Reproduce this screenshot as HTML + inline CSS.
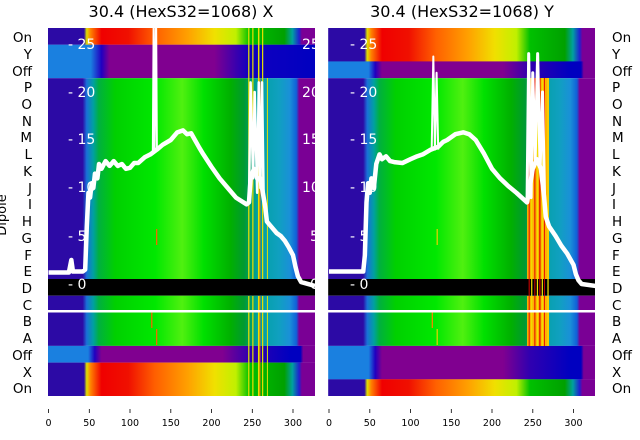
<!DOCTYPE html>
<html><head><meta charset="utf-8"><style>
body{margin:0;background:#fff}
svg{display:block}
text{font-family:"DejaVu Sans","Liberation Sans",sans-serif}
</style></head><body>
<svg width="640" height="440" viewBox="0 0 640 440">
<defs>
<linearGradient id="gr"><stop offset="0" stop-color="#2c0aa5"/><stop offset="0.13" stop-color="#2c0aa5"/><stop offset="0.145" stop-color="#1a70d8"/><stop offset="0.17" stop-color="#00a0a0"/><stop offset="0.19" stop-color="#00b040"/><stop offset="0.25" stop-color="#00d000"/><stop offset="0.4" stop-color="#00e800"/><stop offset="0.5" stop-color="#50f010"/><stop offset="0.58" stop-color="#00e000"/><stop offset="0.68" stop-color="#00b000"/><stop offset="0.73" stop-color="#009a30"/><stop offset="0.78" stop-color="#00a0a0"/><stop offset="0.86" stop-color="#10a0c0"/><stop offset="0.9" stop-color="#1a90d8"/><stop offset="0.925" stop-color="#1060d8"/><stop offset="0.935" stop-color="#7a0095"/><stop offset="1" stop-color="#7a0095"/></linearGradient>
<linearGradient id="ht"><stop offset="0" stop-color="#2c0aa5"/><stop offset="0.135" stop-color="#2c0aa5"/><stop offset="0.145" stop-color="#e0e000"/><stop offset="0.16" stop-color="#ff8000"/><stop offset="0.2" stop-color="#f00000"/><stop offset="0.3" stop-color="#f01000"/><stop offset="0.4" stop-color="#ff6000"/><stop offset="0.52" stop-color="#ffa000"/><stop offset="0.62" stop-color="#f0e000"/><stop offset="0.7" stop-color="#c0f000"/><stop offset="0.75" stop-color="#00c000"/><stop offset="0.88" stop-color="#00a000"/><stop offset="0.91" stop-color="#00a0a0"/><stop offset="0.935" stop-color="#2020d0"/><stop offset="0.945" stop-color="#7a0095"/><stop offset="1" stop-color="#7a0095"/></linearGradient>
<linearGradient id="pu"><stop offset="0" stop-color="#1a80e0"/><stop offset="0.15" stop-color="#1a80e0"/><stop offset="0.175" stop-color="#2000c0"/><stop offset="0.2" stop-color="#800090"/><stop offset="0.65" stop-color="#800090"/><stop offset="0.75" stop-color="#3000b0"/><stop offset="0.9" stop-color="#0000c0"/><stop offset="0.94" stop-color="#0000c0"/><stop offset="0.95" stop-color="#7a0095"/><stop offset="1" stop-color="#7a0095"/></linearGradient>
<linearGradient id="pl"><stop offset="0" stop-color="#1a80e0"/><stop offset="0.16" stop-color="#1a80e0"/><stop offset="0.2" stop-color="#2000c0"/><stop offset="0.23" stop-color="#800090"/><stop offset="0.62" stop-color="#800090"/><stop offset="0.75" stop-color="#1000c0"/><stop offset="1" stop-color="#0000c0"/></linearGradient>
<clipPath id="cl"><rect x="48" y="28" width="267" height="368"/></clipPath>
<clipPath id="cr"><rect x="328" y="28" width="267" height="368"/></clipPath>
</defs>

<text x="181" y="17" font-size="16" text-anchor="middle">30.4 (HexS32=1068) X</text>
<text x="462" y="17" font-size="16" text-anchor="middle">30.4 (HexS32=1068) Y</text>

<!-- LEFT PANEL -->
<g clip-path="url(#cl)">
<g transform="translate(48.5,0) scale(0.815,1)">
<rect x="-1" y="28" width="330" height="16.8" fill="url(#ht)"/>
<rect x="-1" y="44.7" width="330" height="33.5" fill="url(#pl)"/>
<rect x="-1" y="78.2" width="330" height="201" fill="url(#gr)"/>
<rect x="-1" y="279" width="330" height="16.7" fill="#000"/>
<rect x="-1" y="295.7" width="330" height="50.2" fill="url(#gr)"/>
<rect x="-1" y="345.9" width="330" height="16.7" fill="url(#pu)"/>
<rect x="-1" y="362.6" width="330" height="33.5" fill="url(#ht)"/>
<g fill="#e8e000"><rect x="245" y="28" width="1.5" height="251"/><rect x="250" y="28" width="1.5" height="251"/><rect x="257" y="28" width="1.8" height="251"/><rect x="262" y="28" width="1.5" height="251"/><rect x="268" y="78" width="1.2" height="201"/>
<rect x="245" y="296" width="1.5" height="100"/><rect x="250" y="296" width="1.5" height="100"/><rect x="257" y="296" width="1.8" height="100"/><rect x="262" y="296" width="1.5" height="100"/><rect x="268" y="296" width="1.2" height="100"/></g>
<g fill="#ff6000"><rect x="259" y="78" width="1" height="201"/><rect x="259" y="296" width="1" height="100"/><rect x="132" y="229" width="1.5" height="16"/><rect x="126" y="312" width="1.5" height="16"/><rect x="132" y="329" width="1.5" height="16"/></g>
<g transform="translate(0,284) scale(1,-9.6)" fill="none" stroke="#fff" stroke-linejoin="round">
<polyline vector-effect="non-scaling-stroke" stroke-width="2" points="128,13.7 129,27 130,14 132,28 133,14"/>
<polyline vector-effect="non-scaling-stroke" stroke-width="2.5" points="246,8.5 248,21 251,11 253,20 256,9.5 258,21 260,10 262,21 264,9"/>
<polyline vector-effect="non-scaling-stroke" stroke-width="4.5" points="0,1.2 25,1.2 28,2.5 30,1.3 42,1.3 45,1.5 47,6 49,9.5 51,9 53,10.5 55,10 57,11.5 60,11 62,12.5 65,12 70,12.8 75,12.3 80,12.8 85,12.3 90,12.5 95,12 100,12.1 105,12.6 110,12.6 118,13.2 125,13.5 133,14 140,14.5 150,15 158,15.8 165,16 170,15.6 175,15.7 185,14.2 190,13.5 200,12.2 210,11 220,10 230,9 243,8.3 246,8.5 248,11 252,12 256,11 260,11 264,9 266,8 268,6.5 275,5.8 280,5.3 285,5 290,4.5 295,3.8 300,3 303,1.8 306,0.8 310,0.2 327,-0.2"/>
</g>
</g>
<rect x="48" y="310" width="267" height="2.5" fill="#fff"/>
<g fill="#fff" font-size="14"><text x="68" y="49">- 25</text><text x="68" y="97">- 20</text><text x="68" y="144">- 15</text><text x="68" y="192">- 10</text><text x="68" y="241">- 5</text><text x="68" y="289">- 0</text>
<text x="302" y="49">25</text><text x="302" y="97">20</text><text x="302" y="144">15</text><text x="302" y="192">10</text><text x="310" y="241">5</text><text x="310" y="289">0</text></g>
</g>

<!-- RIGHT PANEL -->
<g clip-path="url(#cr)">
<g transform="translate(329,0) scale(0.815,1)">
<rect x="-1" y="28" width="330" height="33.5" fill="url(#ht)"/>
<rect x="-1" y="61.4" width="330" height="16.8" fill="url(#pu)"/>
<rect x="-1" y="78.2" width="330" height="201" fill="url(#gr)"/>
<rect x="-1" y="279" width="330" height="16.7" fill="#000"/>
<rect x="-1" y="295.7" width="330" height="50.2" fill="url(#gr)"/>
<rect x="-1" y="345.9" width="330" height="33.5" fill="url(#pu)"/>
<rect x="-1" y="379.3" width="330" height="16.8" fill="url(#ht)"/>
<g><rect x="243" y="78" width="27" height="201" fill="#ffb000"/><rect x="243" y="296" width="27" height="50" fill="#ffb000"/>
<g fill="#e00000"><rect x="245" y="78" width="1.2" height="268"/><rect x="252" y="78" width="1.2" height="268"/><rect x="258" y="78" width="1.5" height="268"/><rect x="264" y="78" width="1" height="268"/></g>
<g fill="#f0e000"><rect x="248" y="78" width="1.5" height="268"/><rect x="255" y="78" width="1.5" height="268"/><rect x="261" y="78" width="1.5" height="268"/><rect x="268" y="78" width="1.5" height="268"/></g></g>
<g fill="#e8d000"><rect x="132" y="229" width="1.5" height="16"/><rect x="132" y="329" width="1.5" height="16"/></g>
<rect x="126" y="312" width="1.5" height="16" fill="#ff8000"/>
<g transform="translate(0,284) scale(1,-9.6)" fill="none" stroke="#fff" stroke-linejoin="round">
<polyline vector-effect="non-scaling-stroke" stroke-width="2" points="126,14 128,23.7 130,14 132,22 134,14"/>
<polyline vector-effect="non-scaling-stroke" stroke-width="3" points="243,8.5 245,24 248,9 250,22 253,13 256,24 259,12 262,20 265,7"/>
<polyline vector-effect="non-scaling-stroke" stroke-width="4.5" points="0,1.3 42,1.3 44,3 46,8.5 48,10.5 50,9.5 52,11 55,10 58,12.5 62,13.5 65,13 70,13.3 75,12.8 80,12.7 90,12.6 100,13 108,13.3 115,13.5 125,14 134,14.3 140,14.8 145,15 155,15.6 165,15.8 172,15.6 180,15 190,13.6 200,12 210,11 220,10.2 230,9.5 243,8.5 246,10 250,12 255,13 260,12 264,9 266,7 270,6 278,5 285,4 292,3.2 300,2 303,1 306,0.4 310,0 327,-0.2"/>
</g>
</g>
<rect x="328" y="310" width="267" height="2.5" fill="#fff"/>
<g fill="#fff" font-size="14"><text x="350" y="49">- 25</text><text x="350" y="97">- 20</text><text x="350" y="144">- 15</text><text x="350" y="192">- 10</text><text x="350" y="241">- 5</text><text x="350" y="289">- 0</text></g>
</g>

<!-- row labels -->
<g font-size="13.5" fill="#000">
<g text-anchor="end">
<text x="32" y="42">On</text><text x="32" y="59">Y</text><text x="32" y="76">Off</text><text x="32" y="92">P</text><text x="32" y="109">O</text><text x="32" y="126">N</text><text x="32" y="142">M</text><text x="32" y="159">L</text><text x="32" y="176">K</text><text x="32" y="193">J</text><text x="32" y="209">I</text><text x="32" y="226">H</text><text x="32" y="243">G</text><text x="32" y="260">F</text><text x="32" y="276">E</text><text x="32" y="293">D</text><text x="32" y="310">C</text><text x="32" y="326">B</text><text x="32" y="343">A</text><text x="32" y="360">Off</text><text x="32" y="377">X</text><text x="32" y="393">On</text></g>
<g>
<text x="612" y="42">On</text><text x="612" y="59">Y</text><text x="612" y="76">Off</text><text x="612" y="92">P</text><text x="612" y="109">O</text><text x="612" y="126">N</text><text x="612" y="142">M</text><text x="612" y="159">L</text><text x="612" y="176">K</text><text x="612" y="193">J</text><text x="612" y="209">I</text><text x="612" y="226">H</text><text x="612" y="243">G</text><text x="612" y="260">F</text><text x="612" y="276">E</text><text x="612" y="293">D</text><text x="612" y="310">C</text><text x="612" y="326">B</text><text x="612" y="343">A</text><text x="612" y="360">Off</text><text x="612" y="377">X</text><text x="612" y="393">On</text></g>
<text transform="translate(6,215) rotate(-90)" text-anchor="middle" font-size="13">Dipole</text>
</g>

<!-- x ticks -->
<g stroke="#000" stroke-width="0.8">
<line x1="48.5" y1="409" x2="48.5" y2="413"/><line x1="89.3" y1="409" x2="89.3" y2="413"/><line x1="130" y1="409" x2="130" y2="413"/><line x1="170.8" y1="409" x2="170.8" y2="413"/><line x1="211.5" y1="409" x2="211.5" y2="413"/><line x1="252.3" y1="409" x2="252.3" y2="413"/><line x1="293" y1="409" x2="293" y2="413"/>
<line x1="329" y1="409" x2="329" y2="413"/><line x1="369.8" y1="409" x2="369.8" y2="413"/><line x1="410.5" y1="409" x2="410.5" y2="413"/><line x1="451.3" y1="409" x2="451.3" y2="413"/><line x1="492" y1="409" x2="492" y2="413"/><line x1="532.8" y1="409" x2="532.8" y2="413"/><line x1="573.5" y1="409" x2="573.5" y2="413"/>
</g>
<g font-size="9.5" text-anchor="middle" fill="#000">
<text x="48.5" y="426">0</text><text x="89.3" y="426">50</text><text x="130" y="426">100</text><text x="170.8" y="426">150</text><text x="211.5" y="426">200</text><text x="252.3" y="426">250</text><text x="293" y="426">300</text>
<text x="329" y="426">0</text><text x="369.8" y="426">50</text><text x="410.5" y="426">100</text><text x="451.3" y="426">150</text><text x="492" y="426">200</text><text x="532.8" y="426">250</text><text x="573.5" y="426">300</text>
</g>
</svg>
</body></html>
